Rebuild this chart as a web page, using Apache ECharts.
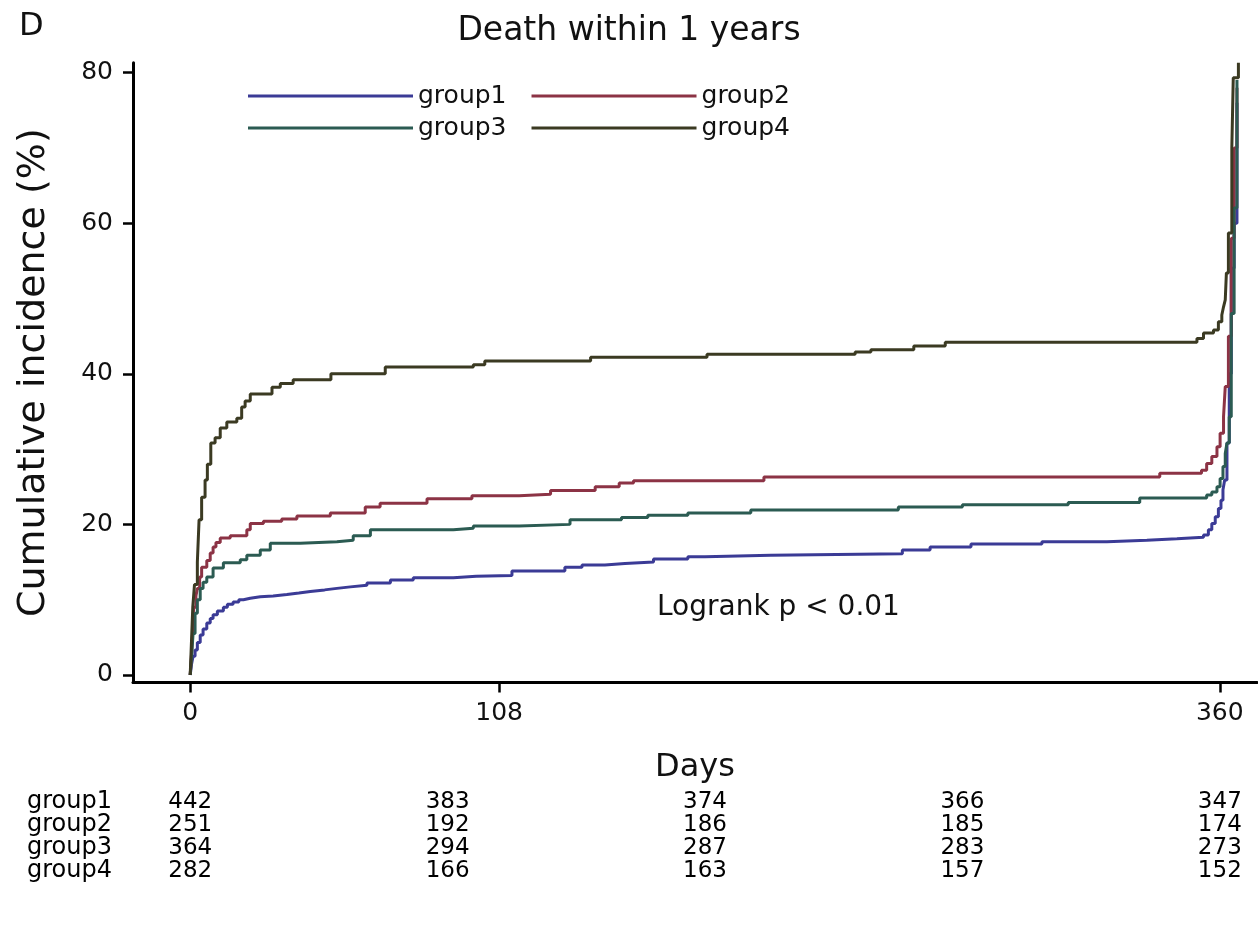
<!DOCTYPE html>
<html>
<head>
<meta charset="utf-8">
<style>
  html, body { margin: 0; padding: 0; background: #fff; }
  #main { width: 1258px; height: 935px; }
</style>
<script src="https://cdn.jsdelivr.net/npm/echarts@6/dist/echarts.min.js"></script>
</head>
<body>
<div id="main"></div>
<script>
// cumulative incidence curves, [day, %]
const group1Curve = [
  [0, 0], [0.5, 1.5], [1, 2.5], [1.7, 3.3], [2.5, 4.3], [3.5, 5.3], [4.5, 6.1], [5.8, 6.9],
  [7, 7.5], [8, 8], [9.5, 8.5], [11.6, 9], [13, 9.4], [15, 9.7], [17, 10], [18.6, 10.2],
  [21, 10.4], [24.5, 10.5], [29, 10.7], [33.8, 10.9], [38, 11.1], [42, 11.3], [47, 11.5],
  [51.3, 11.7], [56, 11.9], [61.8, 12.2], [70, 12.6], [78, 12.9], [92, 13.1], [100, 13.2],
  [112.5, 13.8], [131, 14.3], [137, 14.6], [145, 14.8], [152, 15.0], [162, 15.4], [174, 15.7],
  [180, 15.9], [203, 16.1], [249, 16.6], [258.7, 17.0], [273, 17.4], [297.8, 17.7],
  [320.5, 17.9], [334.5, 18.1], [345, 18.3], [354.3, 18.6], [356, 19.3], [357.2, 20.1],
  [358.4, 21.0], [359.5, 22.1], [360.4, 23.2], [361.1, 24.6], [361.7, 25.9], [362.5, 30.8],
  [363.3, 40], [364, 54], [365, 60], [366, 76]
];
const group2Curve = [
  [0, 0], [0.5, 3], [1, 7], [1.2, 9], [2, 10.5], [2.5, 11.5], [3.3, 13], [4, 14.3], [5.8, 15.2],
  [7, 16.2], [8, 17], [9, 17.6], [10.5, 18.2], [14, 18.5], [19.8, 19.3], [21, 20.1], [25.6, 20.4],
  [32, 20.7], [37.3, 21.1], [49, 21.5], [61.2, 22.3], [66.4, 22.8], [82.8, 23.4], [98.5, 23.8],
  [115, 24.0], [126, 24.5], [141.6, 25.0], [150, 25.5], [155, 25.8], [200.6, 26.3], [339, 26.8],
  [353.6, 27.2], [355.4, 28.1], [357.2, 29.0], [359, 30.3], [360.1, 32.1], [361.3, 34.3],
  [361.9, 38.3], [363, 45], [364, 58], [365, 70], [366, 78]
];
const group3Curve = [
  [0, 0], [0.5, 2.5], [1, 5.5], [1.7, 8.2], [2.5, 10], [3.5, 11.5], [4.5, 12.3], [5.8, 13],
  [8, 14.2], [11.6, 14.9], [17.5, 15.3], [19.8, 15.9], [24.5, 16.6], [28, 17.5], [38.5, 17.7],
  [51.3, 17.9], [57, 18.5], [63, 19.3], [92, 19.5], [99, 19.8], [115, 20.0], [132.8, 20.6],
  [150.8, 20.9], [160, 21.2], [174, 21.5], [196, 21.9], [247.6, 22.3], [270, 22.6], [307, 22.9],
  [332, 23.5], [355.4, 23.9], [357.2, 24.3], [359, 25.0], [360.1, 26.1], [361.1, 27.7],
  [361.9, 29.4], [362.5, 30.8], [363.3, 34.3], [364, 48], [365, 62], [366, 79]
];
const group4Curve = [
  [0, 0], [0.3, 3], [0.9, 9], [1.5, 12], [2.5, 15], [3.1, 20.6], [4, 23.6], [5.2, 25.9], [6, 28],
  [7.2, 30.8], [8.7, 31.5], [10.5, 32.8], [12.8, 33.6], [16.3, 34.1], [18, 35.6], [19.2, 36.4],
  [21, 37.3], [28.6, 38.2], [31.5, 38.7], [36, 39.2], [49.2, 40], [68.2, 40.9], [99, 41.2],
  [103, 41.7], [140, 42.2], [180.7, 42.6], [232.5, 42.9], [238, 43.2], [253, 43.7], [264, 44.2],
  [352, 44.7], [354.3, 45.4], [357.8, 45.8], [359.5, 46.9], [360.7, 47.8], [361.3, 48.9],
  [361.9, 49.8], [362.3, 53.4], [363, 58.7], [364.2, 70], [364.7, 79.3], [366.5, 81.3]
];

const groupNames = ['group1', 'group2', 'group3', 'group4'];
const groupColors = ['#3b3b96', '#8c3345', '#2b5b52', '#3b3a22'];
const xTicks = [0, 108, 360];
const yTicks = [0, 20, 40, 60, 80];

// numbers at risk
const riskDays = [0, 90, 180, 270, 360];
const riskGroup1 = [442, 383, 374, 366, 347];
const riskGroup2 = [251, 192, 186, 185, 174];
const riskGroup3 = [364, 294, 287, 283, 273];
const riskGroup4 = [282, 166, 163, 157, 152];

const curves = [group1Curve, group2Curve, group3Curve, group4Curve];
const risks = [riskGroup1, riskGroup2, riskGroup3, riskGroup4];

const FONT = 'DejaVu Sans';
const chart = echarts.init(document.getElementById('main'));

const riskData = [];
risks.forEach((r, gi) => {
  r.forEach((n, i) => riskData.push([riskDays[i], groupNames[gi], n]));
});

const curveSeries = curves.map((c, i) => ({
  name: groupNames[i],
  type: 'line',
  step: 'end',
  symbol: 'none',
  xAxisIndex: 0,
  yAxisIndex: 0,
  data: c,
  lineStyle: { width: 3, color: groupColors[i] },
  itemStyle: { color: groupColors[i] }
}));

const legendBase = {
  left: 248,
  padding: 0,
  icon: 'rect',
  itemWidth: 165,
  itemHeight: 3,
  itemGap: 25,
  textStyle: { fontFamily: FONT, fontSize: 25, color: '#111', lineHeight: 28 }
};

const option = {
  animation: false,
  backgroundColor: '#fff',
  title: [
    {
      text: 'Death within 1 years',
      left: 'center',
      top: 10,
      textStyle: { fontFamily: FONT, fontSize: 33, fontWeight: 'normal', color: '#111' }
    },
    {
      text: 'D',
      left: 14,
      top: 6,
      textStyle: { fontFamily: FONT, fontSize: 32, fontWeight: 'normal', color: '#111' }
    }
  ],
  legend: [
    Object.assign({ data: ['group1', 'group2'], top: 82 }, legendBase),
    Object.assign({ data: ['group3', 'group4'], top: 114 }, legendBase)
  ],
  grid: [
    { left: 133, right: 1, top: 62.8, bottom: 935 - 682.5 },
    { left: 133, right: 1, top: 790.5, height: 92 }
  ],
  xAxis: [
    {
      gridIndex: 0,
      type: 'value',
      min: -20,
      max: 373,
      name: 'Days',
      nameLocation: 'middle',
      nameGap: 69,
      nameTextStyle: { fontFamily: FONT, fontSize: 32, color: '#111' },
      axisLine: { onZero: false, lineStyle: { color: '#000', width: 3 } },
      axisTick: { customValues: xTicks, length: 10, lineStyle: { color: '#000', width: 2.5 } },
      axisLabel: { customValues: xTicks, margin: 18, fontFamily: FONT, fontSize: 25, color: '#111' },
      splitLine: { show: false }
    },
    {
      gridIndex: 1,
      type: 'value',
      min: -20,
      max: 373,
      show: false
    }
  ],
  yAxis: [
    {
      gridIndex: 0,
      type: 'value',
      min: -1,
      max: 81.3,
      name: 'Cumulative incidence (%)',
      nameLocation: 'middle',
      nameGap: 80,
      nameTextStyle: { fontFamily: FONT, fontSize: 38, color: '#111' },
      axisLine: { show: true, onZero: false, lineStyle: { color: '#000', width: 3 } },
      axisTick: { show: true, customValues: yTicks, length: 10, lineStyle: { color: '#000', width: 2.5 } },
      axisLabel: { customValues: yTicks, margin: 20, fontFamily: FONT, fontSize: 25, color: '#111' },
      splitLine: { show: false }
    },
    {
      gridIndex: 1,
      type: 'category',
      data: groupNames,
      inverse: true,
      axisLine: { show: false },
      axisTick: { show: false },
      axisLabel: { interval: 0, margin: 21, fontFamily: FONT, fontSize: 24, color: '#000' }
    }
  ],
  series: curveSeries.concat([
    {
      name: 'at risk',
      type: 'scatter',
      xAxisIndex: 1,
      yAxisIndex: 1,
      symbolSize: 1,
      itemStyle: { color: 'rgba(0,0,0,0)' },
      data: riskData,
      label: {
        show: true,
        position: 'inside',
        formatter: p => p.value[2],
        fontFamily: FONT,
        fontSize: 23,
        color: '#000',
        textBorderWidth: 0,
        opacity: 1
      }
    }
  ]),
  graphic: [
    {
      type: 'text',
      left: 657,
      top: 594,
      style: { text: 'Logrank p < 0.01', font: '28px "DejaVu Sans"', fill: '#111' }
    }
  ]
};

chart.setOption(option);
</script>
</body>
</html>
